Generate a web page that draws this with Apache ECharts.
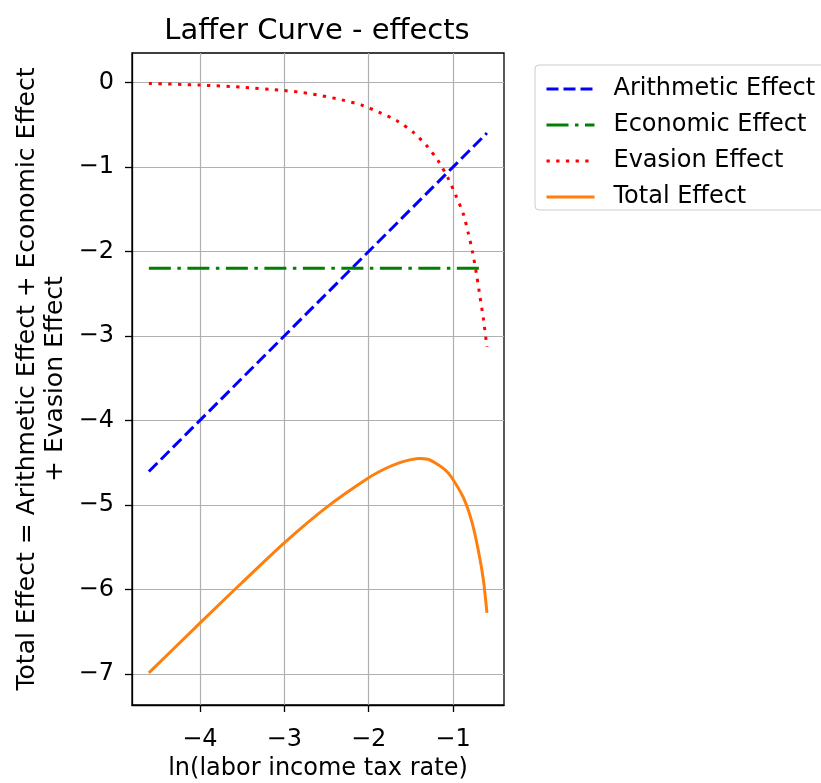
<!DOCTYPE html>
<html>
<head>
<meta charset="utf-8">
<script src="https://cdn.jsdelivr.net/npm/echarts@6/dist/echarts.min.js"></script>
<style>
  html, body { margin: 0; padding: 0; background: #fff; }
  #chart { width: 821px; height: 783px; }
</style>
</head>
<body>
<div id="chart"></div>
<script>
// ln(tax rate) sample points and the effect values for each curve
const arithX = [-4.605, -0.598];
const arithVals = [-4.605, -0.598];

const econX = [-4.605, -0.66];
const econVals = [-2.2, -2.2];

const evasionX = [-4.605, -4.0, -3.5, -3.0, -2.78, -2.55, -2.32, -2.09, -1.88, -1.67, -1.47, -1.32, -1.18, -1.06, -0.97, -0.88, -0.82, -0.77, -0.72, -0.68, -0.64, -0.598];
const evasionVals = [-0.01, -0.03, -0.055, -0.095, -0.118, -0.157, -0.205, -0.264, -0.35, -0.45, -0.59, -0.74, -0.92, -1.13, -1.33, -1.55, -1.78, -2.0, -2.28, -2.54, -2.80, -3.13];

const totalX = [-4.605, -4.0, -3.5, -3.0, -2.5, -2.0, -1.8, -1.63, -1.5, -1.4, -1.3, -1.2, -1.1, -1.02, -0.88, -0.78, -0.70, -0.64, -0.598];
const totalVals = [-6.99, -6.40, -5.92, -5.45, -5.03, -4.68, -4.57, -4.50, -4.465, -4.45, -4.46, -4.51, -4.58, -4.67, -4.91, -5.19, -5.54, -5.89, -6.28];

const xTicks = [-4, -3, -2, -1];
const yTicks = [-7, -6, -5, -4, -3, -2, -1, 0];

const zip = (xs, ys) => xs.map((x, i) => [x, ys[i]]);
const fmt = v => (v < 0 ? '\u2212' + Math.abs(v) : String(v));

const font = 'DejaVu Sans';
const chart = echarts.init(document.getElementById('chart'), null, { renderer: 'canvas' });

chart.setOption({
  animation: false,
  backgroundColor: '#ffffff',
  textStyle: { fontFamily: font },
  title: {
    text: 'Laffer Curve - effects',
    left: 312,
    textAlign: 'center',
    top: 12,
    textStyle: { fontFamily: font, fontSize: 29, fontWeight: 'normal', color: '#000' }
  },
  legend: {
    orient: 'vertical',
    left: 535,
    top: 65,
    padding: [12, 24, 1, 10],
    itemWidth: 48,
    itemHeight: 14,
    itemGap: 12,
    borderColor: '#cccccc',
    borderWidth: 1,
    borderRadius: 4,
    itemStyle: { opacity: 0 },
    lineStyle: { width: 3 },
    textStyle: { fontFamily: font, fontSize: 24, color: '#000', padding: [0, 0, 0, 14] },
    data: ['Arithmetic Effect', 'Economic Effect', 'Evasion Effect', 'Total Effect']
  },
  grid: {
    left: 132, top: 53, width: 372, height: 652,
    outerBoundsMode: 'none',
    containLabel: false,
    show: true, borderColor: '#000', borderWidth: 1.3, backgroundColor: 'transparent'
  },
  xAxis: {
    type: 'value',
    min: -4.805, max: -0.396,
    name: 'ln(labor income tax rate)',
    nameLocation: 'middle',
    nameGap: 52,
    nameTextStyle: { fontFamily: font, fontSize: 24, color: '#000' },
    axisLine: { show: true, onZero: false, lineStyle: { color: '#000', width: 1.3 } },
    axisTick: { show: true, customValues: xTicks, length: 7, lineStyle: { color: '#000', width: 1.3 } },
    axisLabel: { customValues: xTicks, formatter: fmt, fontFamily: font, fontSize: 24, color: '#000', margin: 18, padding: [5, 0, 0, 0] },
    splitLine: { show: true, lineStyle: { color: '#b0b0b0', width: 1.2 } }
  },
  yAxis: {
    type: 'value',
    min: -7.37, max: 0.35,
    name: 'Total Effect = Arithmetic Effect + Economic Effect\n+ Evasion Effect',
    nameLocation: 'middle',
    nameRotate: 90,
    nameGap: 63,
    nameTextStyle: { fontFamily: font, fontSize: 25, color: '#000', lineHeight: 28, align: 'center' },
    axisLine: { show: true, onZero: false, lineStyle: { color: '#000', width: 1.3 } },
    axisTick: { show: true, customValues: yTicks, length: 7, lineStyle: { color: '#000', width: 1.3 } },
    axisLabel: { customValues: yTicks, formatter: fmt, fontFamily: font, fontSize: 24, color: '#000', margin: 18 },
    splitLine: { show: true, lineStyle: { color: '#b0b0b0', width: 1.2 } }
  },
  series: [
    {
      name: 'Arithmetic Effect', type: 'line', showSymbol: false, symbol: 'none',
      data: zip(arithX, arithVals),
      color: '#0000ff',
      lineStyle: { color: '#0000ff', width: 3, type: [12, 5] }
    },
    {
      name: 'Economic Effect', type: 'line', showSymbol: false, symbol: 'none',
      data: zip(econX, econVals),
      color: '#008000',
      lineStyle: { color: '#008000', width: 3, type: [22, 6.5, 3.5, 6.5] }
    },
    {
      name: 'Evasion Effect', type: 'line', showSymbol: false, symbol: 'none',
      data: zip(evasionX, evasionVals),
      smooth: 0.25,
      color: '#ff0000',
      lineStyle: { color: '#ff0000', width: 3, type: [3.3, 6.4] }
    },
    {
      name: 'Total Effect', type: 'line', showSymbol: false, symbol: 'none',
      data: zip(totalX, totalVals),
      smooth: 0.25,
      color: '#ff7f0e',
      lineStyle: { color: '#ff7f0e', width: 3, type: 'solid' }
    }
  ]
});
</script>
</body>
</html>
